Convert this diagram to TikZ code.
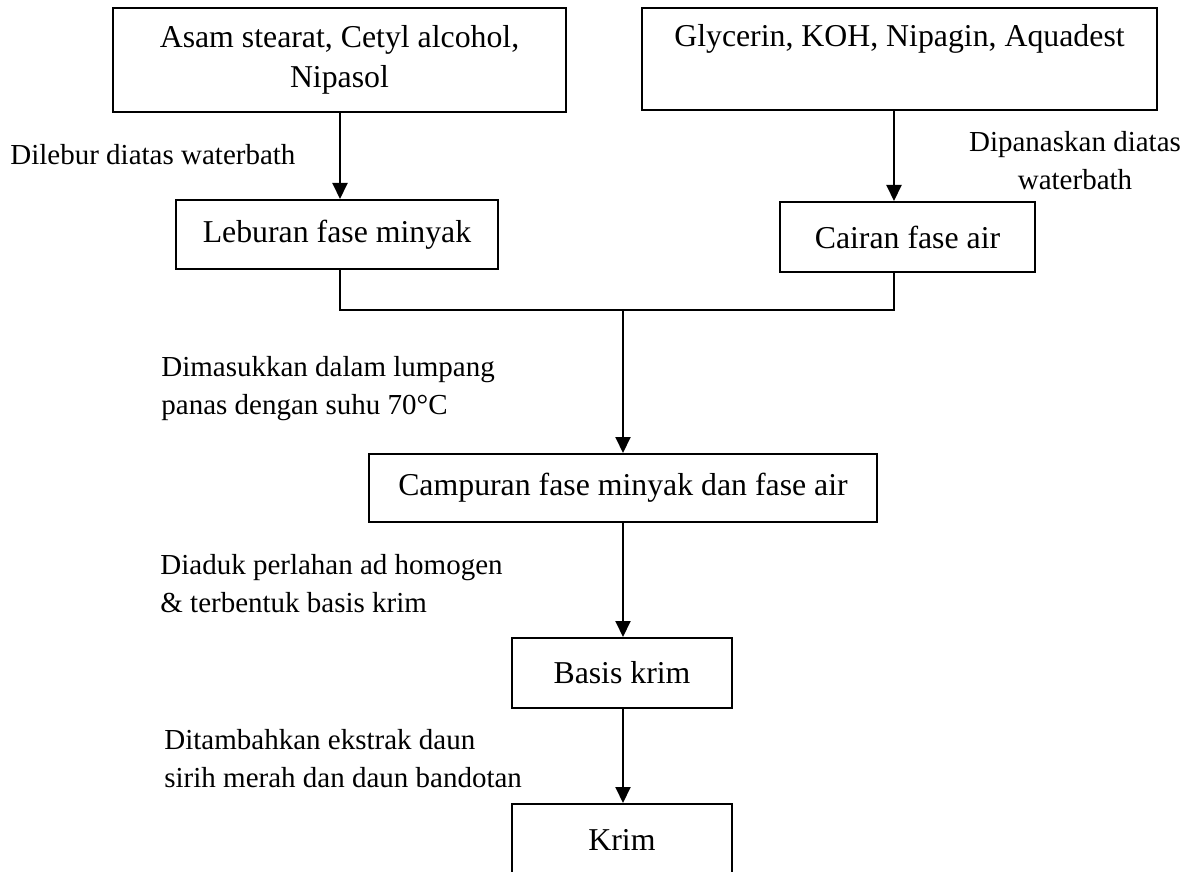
\documentclass[tikz,border=0pt]{standalone}
\usepackage{fontspec}
\setmainfont{Liberation Serif}
\usetikzlibrary{arrows.meta}
\begin{document}
\begin{tikzpicture}[x=0.5pt,y=-0.5pt,
  box/.style={draw, line width=1pt, inner sep=0pt, align=center, font=\fontsize{15.9}{20}\selectfont},
  lbl/.style={inner sep=0pt, font=\fontsize{14.5}{19}\selectfont},
  arr/.style={line width=1pt, -{Triangle[length=8pt,width=7.5pt]}},
  ln/.style={line width=1pt}]
\useasboundingbox (0,0) rectangle (1201,872);
\node[box, minimum width=226.5pt, minimum height=52pt] (b1) at (339.5,60) {\strut Asam stearat, Cetyl alcohol,\\\strut Nipasol};
\node[box, minimum width=257.5pt, minimum height=51pt] (b2) at (899.5,59) {\strut Glycerin, KOH, Nipagin, Aquadest\\\strut};
\node[box, minimum width=161pt, minimum height=34.5pt] (b3) at (337,234.5) {Leburan fase minyak};
\node[box, minimum width=127.5pt, minimum height=35pt] (b4) at (907.5,237) {Cairan fase air};
\node[box, minimum width=254pt, minimum height=34pt] (b5) at (623,488) {Campuran fase minyak dan fase air};
\node[box, minimum width=110pt, minimum height=35pt] (b6) at (622,673) {Basis krim};
\node[box, minimum width=110pt, minimum height=36pt] (b7) at (622,840) {Krim};
\node[lbl, anchor=west] (l1) at (10,155) {Dilebur diatas waterbath};
\node[lbl, align=center] (l2) at (1075,161) {Dipanaskan diatas\\waterbath};
\node[lbl, align=left, anchor=west] (l3) at (161,389) {Dimasukkan dalam lumpang\\panas dengan suhu 70°C};
\node[lbl, align=left, anchor=west] (l4) at (160,584) {Diaduk perlahan ad homogen\\\& terbentuk basis krim};
\node[lbl, align=left, anchor=west] (l5) at (164,759) {Ditambahkan ekstrak daun\\sirih merah dan daun bandotan};
\coordinate (cl) at (340,0);
\coordinate (cr) at (894,0);
\coordinate (cc) at (623,0);
\coordinate (jy) at (0,310);
\draw[arr] (cl |- b1.south) -- (cl |- b3.north);
\draw[arr] (cr |- b2.south) -- (cr |- b4.north);
\draw[ln] (cl |- b3.south) -- (cl |- jy) -- (cr |- jy) -- (cr |- b4.south);
\draw[arr] (cc |- jy) -- (cc |- b5.north);
\draw[arr] (cc |- b5.south) -- (cc |- b6.north);
\draw[arr] (cc |- b6.south) -- (cc |- b7.north);
\end{tikzpicture}
\end{document}
